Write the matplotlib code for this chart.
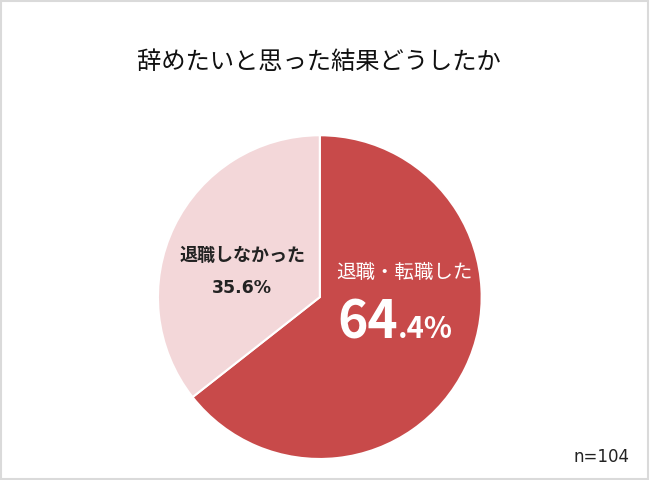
import matplotlib
matplotlib.use("Agg")
import matplotlib.pyplot as plt
from matplotlib.patches import Rectangle

plt.rcParams['font.family'] = ['Noto Sans CJK JP', 'DejaVu Sans']

# data
labels = ['退職・転職した', '退職しなかった']
values = [64.4, 35.6]
colors = ['#C84A4A', '#F3D7D9']
title = '辞めたいと思った結果どうしたか'
n_note = 'n=104'

fig = plt.figure(figsize=(6.5, 4.8), dpi=100)

# outer frame
frame = Rectangle((0.002, 0.003), 0.995, 0.994, transform=fig.transFigure,
                  fill=False, edgecolor='#DADADA', linewidth=1.5)
fig.patches.append(frame)

fig.text(0.49, 0.871, title, ha='center', va='center', fontsize=17.5, color='#111111')

ax = fig.add_axes([0.243, 0.0435, 0.498, 0.675])
wedges, _ = ax.pie(values, colors=colors, startangle=90, counterclock=False,
                   wedgeprops=dict(edgecolor='white', linewidth=1.5))
ax.set_xlim(-1, 1)
ax.set_ylim(-1, 1)
ax.set_aspect('equal')
ax.axis('off')

# labels inside slices (data coordinates, radius = 1)
ax.text(0.52, 0.15, labels[0], ha='center', va='center', fontsize=14, color='white')
ax.text(0.11, -0.255, '64', ha='left', va='baseline', fontsize=37, fontweight='bold', color='white')
ax.text(0.48, -0.255, '.' + f'{values[0]:.1f}'.split('.')[1] + '%', ha='left', va='baseline',
        fontsize=21, fontweight='bold', color='white')

ax.text(-0.48, 0.26, labels[1], ha='center', va='center', fontsize=13, fontweight='bold', color='#222222')
ax.text(-0.48, 0.055, f'{values[1]:.1f}%', ha='center', va='center', fontsize=12.5, fontweight='bold',
        color='#222222', family=['DejaVu Sans'])

fig.text(0.969, 0.048, n_note, ha='right', va='center', fontsize=12, color='#222222',
         family=['DejaVu Sans'])

fig.savefig('out.png', dpi=100)
